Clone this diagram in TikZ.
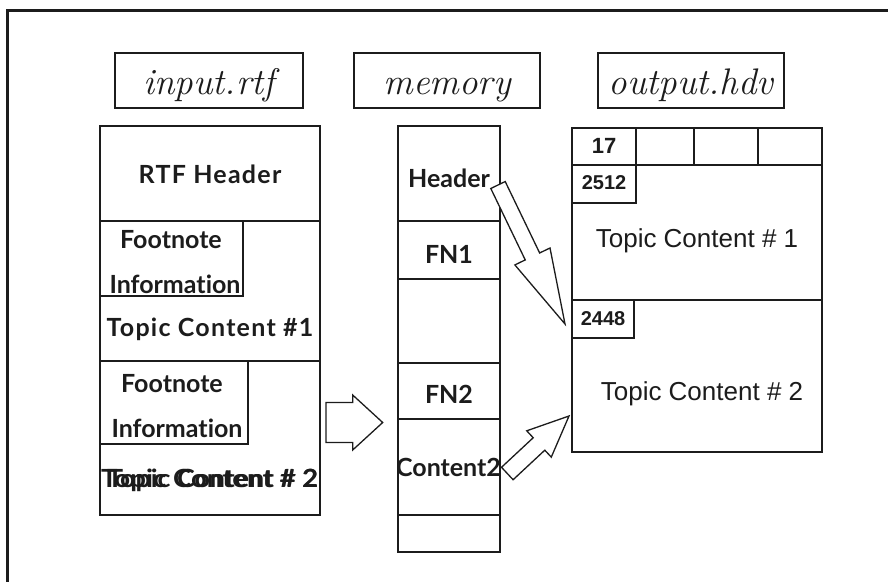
\documentclass[tikz,border=0pt]{standalone}
\usepackage{fontspec}
\usepackage{graphicx}
\usetikzlibrary{calc}
\newfontfamily\labelfont{Lato}[Ligatures={NoCommon}]
\newfontfamily\hdvfont{Liberation Sans}
\definecolor{ink}{HTML}{1C1C1C}

% outlined block arrow: #1 tail, #2 tip, #3 shaft half-width,
% #4 head half-width, #5 head length
\newcommand{\blockarrow}[5]{%
  \coordinate (babase) at ($(#2)!#5!(#1)$);
  \draw[blockarr]
    ($(#1)!#3!90:(#2)$) -- ($(babase)!#3!90:(#2)$) -- ($(babase)!#4!90:(#2)$)
    -- (#2)
    -- ($(babase)!#4!-90:(#2)$) -- ($(babase)!#3!-90:(#2)$) -- ($(#1)!#3!-90:(#2)$)
    -- cycle;
}

\begin{document}
\begin{tikzpicture}[x=1pt,y=-1pt,
  cell/.style={draw=ink, line width=1.3pt, inner sep=0pt, outer sep=0pt,
    anchor=north west, text=ink},
  titlebox/.style={cell, font=\fontsize{37}{40}\selectfont\itshape},
  lbl/.style={text=ink, font=\labelfont\bfseries\fontsize{25}{28}\selectfont},
  widelbl/.style={text=ink, font=\labelfont\bfseries\fontsize{25}{28}\selectfont\addfontfeature{LetterSpace=5}},
  hdvnum/.style={font=\hdvfont\bfseries\fontsize{20}{22}\selectfont},
  hdvtext/.style={font=\hdvfont\fontsize{26}{28}\selectfont},
  blockarr/.style={draw=ink, fill=white, line width=1.3pt, line join=miter},
  frame/.style={draw=ink, line width=3pt}
]
\useasboundingbox (0,0) rectangle (888,582);
\fill[white] (0,0) rectangle (888,582);

% page frame
\path[frame] (888,10) -- (7,10) -- (7,582);

% file titles
\node[titlebox, minimum width=188pt, text height=41pt, text depth=14pt] (inFile) at (115,53) {input.rtf};
\node[titlebox, minimum width=186pt, text height=41pt, text depth=14pt] (memFile) at (354,53) {memory};
\node[titlebox, minimum width=186pt, text height=41pt, text depth=14pt] (outFile) at (598,53) {output.hdv};

% input.rtf column
\node[cell, widelbl, minimum width=220pt, text height=57pt, text depth=38pt] (inHdr) at (100,126) {RTF Header};
\node[cell, widelbl, minimum width=220pt, text height=115pt, text depth=25pt] (inTopic1) at (100,221) {Topic Content \#1};
\node[cell, minimum width=143pt, minimum height=75pt] (inFn1) at (100,221) {};
\node[lbl, anchor=base] (inFn1a) at (171,248) {Footnote};
\node[lbl, anchor=base] (inFn1b) at (175,293) {Information};
\node[cell, minimum width=220pt, minimum height=154pt] (inTopic2) at (100,361) {};
\node[cell, minimum width=148pt, minimum height=83pt] (inFn2) at (100,361) {};
\node[lbl, anchor=base] (inFn2a) at (172,392) {Footnote};
\node[lbl, anchor=base] (inFn2b) at (177,437) {Information};
% overprinted topic line
\node[lbl, anchor=base west, inner sep=0pt] (inTopic2a) at (101,487) {\resizebox{217pt}{\height}{Topic Content \# 2}};
\node[lbl, anchor=base west, inner sep=0pt] (inTopic2b) at (107,487) {\resizebox{211pt}{\height}{Topic Content \# 2}};

% memory column
\node[cell, lbl, minimum width=102pt, text height=61pt, text depth=34pt] (memHdr) at (398,126) {Header};
\node[cell, lbl, minimum width=102pt, text height=42pt, text depth=16pt] (memFn1) at (398,221) {FN1};
\node[cell, minimum width=102pt, minimum height=84pt] (memGap) at (398,279) {};
\node[cell, lbl, minimum width=102pt, text height=40pt, text depth=16pt] (memFn2) at (398,363) {FN2};
\node[cell, minimum width=102pt, minimum height=96pt] (memContent2) at (398,419) {};
\node[lbl, anchor=base, inner sep=0pt] (memContent2txt) at (448.5,476) {Content2};
\node[cell, minimum width=102pt, minimum height=37pt] (memTail) at (398,515) {};

% output.hdv column
\node[cell, minimum width=64pt, text height=25pt, text depth=12pt, font=\hdvfont\bfseries\fontsize{22}{24}\selectfont] (outC1) at (572,128) {17};
\node[cell, minimum width=58pt, minimum height=37pt] (outC2) at (636,128) {};
\node[cell, minimum width=64pt, minimum height=37pt] (outC3) at (694,128) {};
\node[cell, minimum width=64pt, minimum height=37pt] (outC4) at (758,128) {};
\node[cell, hdvtext, minimum width=250pt, text height=82pt, text depth=53pt] (outTopic1) at (572,165) {Topic Content \# 1};
\node[cell, hdvnum, minimum width=64pt, text height=24pt, text depth=14pt] (out2512) at (572,165) {2512};
\node[cell, hdvtext, minimum width=250pt, text height=100pt, text depth=52pt] (outTopic2) at (572,300) {\hspace*{10pt}Topic Content \# 2};
\node[cell, hdvnum, minimum width=62pt, text height=25pt, text depth=13pt] (out2448) at (572,300) {2448};

% block arrows
\coordinate (aInTail) at ($(inTopic2.north east)+(6,61.5)$);
\coordinate (aInTip) at ($(memContent2.north west)+(-15.3,3.5)$);
\blockarrow{aInTail}{aInTip}{20pt}{27.5pt}{30pt}

\coordinate (aHdrTail) at ($(memHdr.north east)+(-2,59)$);
\coordinate (aHdrTip) at ($(out2448.north west)+(-7,24)$);
\blockarrow{aHdrTail}{aHdrTip}{8pt}{19.5pt}{75pt}

\coordinate (aOutTail) at ($(memContent2.north east)+(7.3,54.5)$);
\coordinate (aOutTip) at ($(outTopic2.north west)+(-3,116)$);
\blockarrow{aOutTail}{aOutTip}{8.5pt}{18pt}{41pt}
\end{tikzpicture}
\end{document}
